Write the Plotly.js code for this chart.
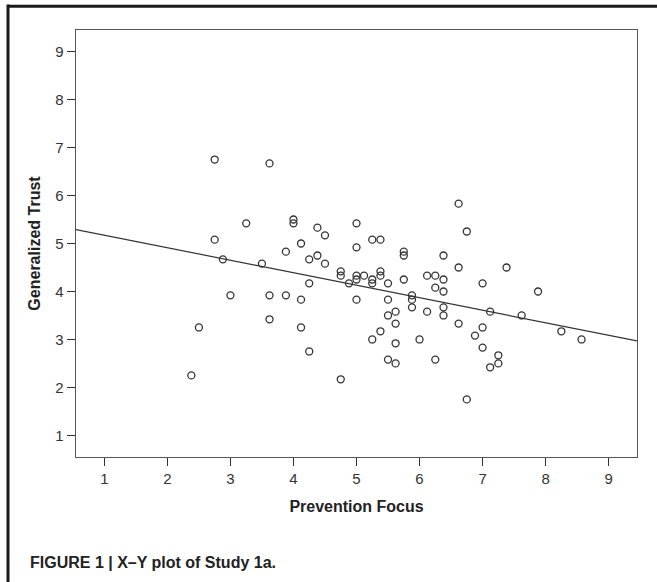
<!DOCTYPE html>
<html>
<head>
<meta charset="utf-8">
<script src="https://cdn.plot.ly/plotly-3.0.1.min.js"></script>
<style>
  html, body { margin: 0; padding: 0; background: #ffffff; }
  #chart { width: 657px; height: 582px; }
</style>
</head>
<body>
<div id="chart"></div>
<script>
// Prevention Focus (x) and Generalized Trust (y)
var preventionFocus = [
  2.75, 3.25, 2.75, 2.88, 3.50, 3.00, 2.50, 2.38, 3.62, 4.00,
  4.00, 4.38, 4.50, 5.00, 4.12, 5.25, 5.38, 5.00, 3.88, 5.75,
  5.75, 6.38, 4.38, 4.25, 4.50, 4.75, 4.75, 5.00, 5.00, 5.12,
  5.25, 5.25, 5.38, 5.38, 4.88, 4.25, 5.50, 5.75, 6.12, 6.25,
  6.38, 6.25, 6.38, 3.62, 3.88, 4.12, 5.00, 5.50, 5.88, 5.88,
  5.88, 6.38, 5.50, 5.62, 6.12, 6.38, 3.62, 4.12, 4.25, 4.75,
  5.62, 5.38, 5.25, 5.62, 5.50, 5.62, 6.00, 6.25, 6.62, 6.75,
  6.62, 7.38, 7.00, 7.88, 7.12, 7.62, 6.62, 7.00, 6.88, 7.00,
  7.25, 7.25, 7.12, 6.75, 8.25, 8.57
];
var generalizedTrust = [
  6.75, 5.42, 5.08, 4.67, 4.58, 3.92, 3.25, 2.25, 6.67, 5.50,
  5.42, 5.33, 5.17, 5.42, 5.00, 5.08, 5.08, 4.92, 4.83, 4.83,
  4.75, 4.75, 4.75, 4.67, 4.58, 4.42, 4.33, 4.33, 4.25, 4.33,
  4.25, 4.17, 4.42, 4.33, 4.17, 4.17, 4.17, 4.25, 4.33, 4.33,
  4.25, 4.08, 4.00, 3.92, 3.92, 3.83, 3.83, 3.83, 3.92, 3.83,
  3.67, 3.67, 3.50, 3.58, 3.58, 3.50, 3.42, 3.25, 2.75, 2.17,
  3.33, 3.17, 3.00, 2.92, 2.58, 2.50, 3.00, 2.58, 5.83, 5.25,
  4.50, 4.50, 4.17, 4.00, 3.58, 3.50, 3.33, 3.25, 3.08, 2.83,
  2.67, 2.50, 2.42, 1.75, 3.17, 3.00
];
// Fit line endpoints read at the plot edges
var fitX = [0.55, 9.45];
var fitY = [5.29, 2.97];

var tickVals = [1, 2, 3, 4, 5, 6, 7, 8, 9];
var tickText = ['1', '2', '3', '4', '5', '6', '7', '8', '9'];

var xTitle = 'Prevention Focus';
var yTitle = 'Generalized Trust';
var caption = 'FIGURE 1 | X\u2013Y plot of Study 1a.';

var traces = [
  {
    x: fitX, y: fitY, type: 'scatter', mode: 'lines',
    line: { color: '#333333', width: 1.2 },
    hoverinfo: 'skip', showlegend: false
  },
  {
    x: preventionFocus, y: generalizedTrust, type: 'scatter', mode: 'markers',
    marker: { symbol: 'circle-open', size: 7, color: '#333333', line: { width: 1.3, color: '#333333' } },
    showlegend: false
  }
];

var axisCommon = {
  range: [0.55, 9.45],
  tickmode: 'array',
  tickvals: tickVals,
  ticktext: tickText,
  ticks: 'outside',
  ticklen: 8,
  tickwidth: 1.3,
  tickcolor: '#333333',
  showgrid: false,
  zeroline: false,
  showline: true,
  linecolor: '#555555',
  linewidth: 1.3,
  mirror: true,
  tickfont: { family: 'Liberation Sans, Arial, sans-serif', size: 15, color: '#333333' },
  automargin: true
};

var layout = {
  width: 657,
  height: 582,
  paper_bgcolor: '#ffffff',
  plot_bgcolor: '#ffffff',
  margin: { l: 76, r: 20, t: 30, b: 125 },
  xaxis: Object.assign({}, axisCommon, {
    title: { text: xTitle, font: { family: 'Liberation Sans, Arial, sans-serif', size: 16, color: '#222222', weight: 'bold' }, standoff: 14 }
  }),
  yaxis: Object.assign({}, axisCommon, {
    title: { text: yTitle, font: { family: 'Liberation Sans, Arial, sans-serif', size: 16, color: '#222222', weight: 'bold' }, standoff: 10 }
  }),
  annotations: [
    {
      text: '<b>' + caption + '</b>',
      xref: 'paper', yref: 'paper',
      x: -0.0856, y: -0.248,
      xanchor: 'left', yanchor: 'middle',
      showarrow: false,
      font: { family: 'Liberation Sans, Arial, sans-serif', size: 16, color: '#222222' }
    }
  ],
  shapes: [
    { type: 'line', xref: 'paper', yref: 'paper', x0: -0.1212, x1: -0.1212, y0: 1.06, y1: -0.3, line: { color: '#1a1a1a', width: 3 } },
    { type: 'line', xref: 'paper', yref: 'paper', x0: -0.1212, x1: 1.05, y0: 1.0555, y1: 1.0555, line: { color: '#1a1a1a', width: 3 } }
  ],
  showlegend: false
};

Plotly.newPlot('chart', traces, layout, { displayModeBar: false, staticPlot: true });
</script>
</body>
</html>
